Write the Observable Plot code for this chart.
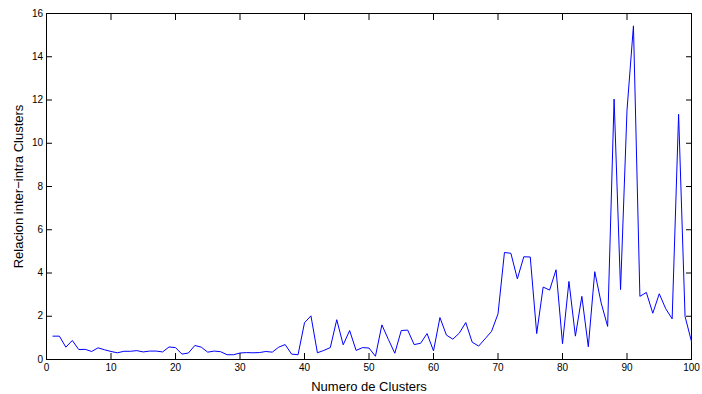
<!DOCTYPE html>
<html>
<head>
<meta charset="utf-8">
<script src="https://cdn.jsdelivr.net/npm/d3@7"></script>
<script src="https://cdn.jsdelivr.net/npm/@observablehq/plot@0.6"></script>
<style>
  html, body { margin: 0; padding: 0; background: #fff; }
  #chart svg { display: block; }
</style>
</head>
<body>
<div id="chart"></div>
<script>
const clusters = [
  1,2,3,4,5,6,7,8,9,10,11,12,13,14,15,16,17,18,19,20,
  21,22,23,24,25,26,27,28,29,30,31,32,33,34,35,36,37,38,39,40,
  41,42,43,44,45,46,47,48,49,50,51,52,53,54,55,56,57,58,59,60,
  61,62,63,64,65,66,67,68,69,70,71,72,73,74,75,76,77,78,79,80,
  81,82,83,84,85,86,87,88,89,90,91,92,93,94,95,96,97,98,99,100
];
const ratio = [
  1.08,1.08,0.57,0.88,0.46,0.47,0.37,0.54,0.45,0.37,
  0.31,0.38,0.38,0.41,0.35,0.39,0.39,0.35,0.58,0.55,
  0.25,0.30,0.65,0.57,0.34,0.39,0.36,0.22,0.22,0.30,
  0.32,0.31,0.32,0.37,0.34,0.57,0.69,0.25,0.22,1.70,
  2.02,0.31,0.42,0.55,1.84,0.68,1.34,0.42,0.55,0.53,
  0.15,1.60,0.93,0.29,1.34,1.36,0.69,0.75,1.20,0.40,
  1.94,1.13,0.94,1.22,1.71,0.80,0.62,0.96,1.30,2.11,
  4.95,4.91,3.73,4.75,4.74,1.20,3.35,3.21,4.15,0.73,
  3.61,1.08,2.92,0.59,4.06,2.61,1.53,12.04,3.23,11.53,
  15.43,2.92,3.10,2.14,3.04,2.35,1.88,11.34,1.99,0.83
];
const xTicks = [0,10,20,30,40,50,60,70,80,90,100];
const yTicks = [0,2,4,6,8,10,12,14,16];
const xLabel = "Numero de Clusters";
const yLabel = "Relacion inter\u2212intra Clusters";

const data = clusters.map((c, i) => ({c, v: ratio[i]}));

const chart = Plot.plot({
  width: 702,
  height: 394,
  marginLeft: 46,
  marginRight: 11,
  marginTop: 13,
  marginBottom: 35,
  style: {fontFamily: "'Liberation Sans', Arial, sans-serif", fontSize: "10px", color: "#000", background: "#fff"},
  x: {domain: [0, 100]},
  y: {domain: [0, 16]},
  marks: [
    Plot.frame({stroke: "#000", strokeWidth: 1}),
    Plot.line(data, {x: "c", y: "v", stroke: "#0000ff", strokeWidth: 1}),
    Plot.axisX(xTicks, {anchor: "bottom", tickSize: -6, tickPadding: 10.5, label: xLabel, labelAnchor: "center", labelArrow: "none", labelOffset: 31, fontSize: 10}),
    Plot.axisX(xTicks, {anchor: "top", tickSize: -6, tickFormat: () => "", label: null}),
    Plot.axisY(yTicks, {anchor: "left", tickSize: -6, tickPadding: 9.5, label: yLabel, labelAnchor: "center", labelArrow: "none", labelOffset: 33, fontSize: 10}),
    Plot.axisY(yTicks, {anchor: "right", tickSize: -6, tickFormat: () => "", label: null})
  ]
});
chart.querySelectorAll("[aria-label$='axis label'] text, [aria-label$='axis label']").forEach(el => el.setAttribute("font-size", "13"));
document.getElementById("chart").appendChild(chart);
</script>
</body>
</html>
